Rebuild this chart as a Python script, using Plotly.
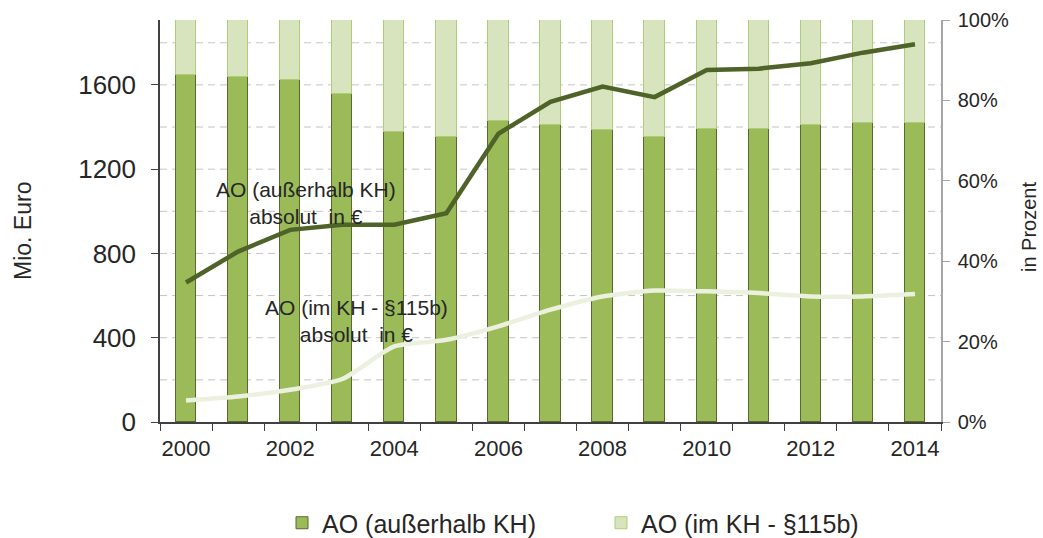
import plotly.graph_objects as go

years = list(range(2000, 2015))
share_ausserhalb = [86.2, 85.7, 85.1, 81.5, 72.2, 71.0, 74.8, 73.8, 72.6, 71.0, 72.9, 72.9, 73.9, 74.5, 74.5]
share_im_kh = [round(100 - v, 1) for v in share_ausserhalb]
abs_ausserhalb = [662, 809, 912, 936, 936, 991, 1368, 1520, 1592, 1542, 1671, 1677, 1703, 1753, 1793]
abs_im_kh = [102, 121, 153, 204, 359, 390, 454, 533, 596, 624, 620, 612, 596, 596, 607]
left_ticks = [0, 400, 800, 1200, 1600]
grid_vals = [200, 400, 600, 800, 1000, 1200, 1400, 1600, 1800]
right_ticks = [0, 20, 40, 60, 80, 100]
right_text = ["0%", "20%", "40%", "60%", "80%", "100%"]
x_ticks = [2000, 2002, 2004, 2006, 2008, 2010, 2012, 2014]

FONT = "Liberation Sans, Arial, sans-serif"
TXT = "#262626"

W, H = 1043, 538
L, R, T, B = 160, 102, 20, 116
pw, ph = W - L - R, H - T - B

fig = go.Figure()
fig.add_trace(go.Bar(x=years, y=share_ausserhalb, name="AO (außerhalb KH)",
                     marker=dict(color="#9BBB59", line=dict(color="#566B2C", width=1)),
                     width=0.39, yaxis="y"))
fig.add_trace(go.Bar(x=years, y=share_im_kh, name="AO (im KH - §115b)",
                     marker=dict(color="#D7E4BD", line=dict(color="#AFCD78", width=1)),
                     width=0.39, yaxis="y"))
fig.add_trace(go.Scatter(x=years, y=abs_ausserhalb, mode="lines", yaxis="y2",
                         line=dict(color="#4F6228", width=4.5), showlegend=False))
fig.add_trace(go.Scatter(x=years, y=abs_im_kh, mode="lines", yaxis="y2",
                         line=dict(color="#EBF1DE", width=4.5, shape="spline", smoothing=0.6),
                         showlegend=False))

shapes = [dict(type="line", xref="paper", x0=0, x1=1, yref="y2", y0=v, y1=v, layer="below",
               line=dict(color="#C4C4C4", width=1, dash="7px,5px")) for v in grid_vals]


def px_to_paper(x_px, y_px):
    return (x_px - L) / pw, 1 - (y_px - T) / ph


mio_x, mio_y = px_to_paper(23, 231)
proz_x, proz_y = px_to_paper(1029, 227)
leg_x, leg_y = px_to_paper(282, 500)

fig.update_layout(
    width=W, height=H,
    margin=dict(l=L, r=R, t=T, b=B, autoexpand=False),
    paper_bgcolor="white", plot_bgcolor="white",
    barmode="stack", bargap=0,
    font=dict(family=FONT, size=20, color=TXT),
    showlegend=True,
    legend=dict(orientation="h", x=leg_x, xanchor="left", y=leg_y, yanchor="top",
                font=dict(size=25, color=TXT), traceorder="normal",
                entrywidth=274, itemwidth=30),
    shapes=shapes,
    xaxis=dict(range=[1999.5, 2014.5], tickvals=x_ticks, ticks="", showgrid=False,
               showline=True, linecolor="#404040", linewidth=1.5, automargin=False,
               tickfont=dict(size=22, color=TXT), ticklabelstandoff=6,
               minor=dict(tickvals=[y - 0.5 for y in years] + [2014.5], ticks="outside",
                          ticklen=7, tickcolor="#404040", showgrid=False)),
    yaxis=dict(range=[0, 100], side="right", tickvals=right_ticks, ticktext=right_text,
               ticks="outside", ticklen=7, tickcolor="#A6A6A6", showgrid=False,
               showline=True, linecolor="#A6A6A6", linewidth=1.5, automargin=False,
               tickfont=dict(size=20, color=TXT), ticklabelstandoff=4,
               zeroline=False),
    yaxis2=dict(range=[0, 1908], side="left", overlaying="y", tickvals=left_ticks,
                ticks="outside", ticklen=7, tickcolor="#404040",
                showline=True, linecolor="#404040", linewidth=1.5, automargin=False,
                showgrid=False, tickfont=dict(size=26, color=TXT), zeroline=False,
                ticklabelstandoff=10),
    annotations=[
        dict(x=2002.3, y=1040, xref="x", yref="y2", showarrow=False,
             text="AO (außerhalb KH)<br>absolut  in €", font=dict(size=21, color=TXT),
             align="center", xanchor="center", yanchor="middle"),
        dict(x=2003.28, y=480, xref="x", yref="y2", showarrow=False,
             text="AO (im KH - §115b)<br>absolut  in €", font=dict(size=21, color=TXT),
             align="center", xanchor="center", yanchor="middle"),
        dict(x=mio_x, y=mio_y, xref="paper", yref="paper", showarrow=False, text="Mio. Euro",
             textangle=-90, font=dict(size=23, color=TXT), xanchor="center", yanchor="middle"),
        dict(x=proz_x, y=proz_y, xref="paper", yref="paper", showarrow=False, text="in Prozent",
             textangle=-90, font=dict(size=20, color=TXT), xanchor="center", yanchor="middle"),
    ],
)

fig.write_html("out.html", config={"displayModeBar": False},
               post_script="document.body.style.margin='0px';")
